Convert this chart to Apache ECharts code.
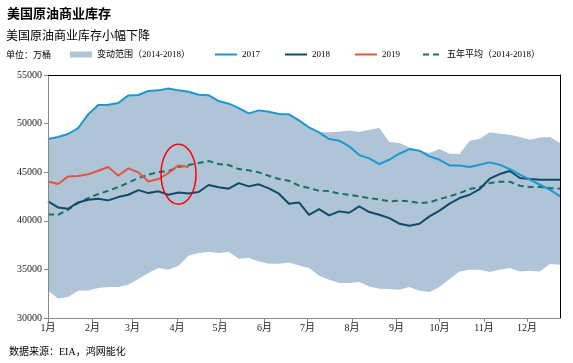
<!DOCTYPE html>
<html><head><meta charset="utf-8">
<script src="https://cdn.jsdelivr.net/npm/echarts@6/dist/echarts.min.js"></script>
<style>html,body{margin:0;padding:0;background:#fff}#c{width:573px;height:363px}</style>
</head><body><div id="c"></div>
<script>
// Month tick positions (day of year) and labels
const monthDays = [0,31,59,90,120,151,181,212,243,273,304,334];
const monthLabels = ['1月','2月','3月','4月','5月','6月','7月','8月','9月','10月','11月','12月'];
// Weekly observation positions (day of year)
const weekDays = [0,7,14,21,28,35,42,49,56,63,70,77,84,91,98,105,112,119,126,133,140,147,154,161,168,175,182,189,196,203,210,217,224,231,238,245,252,259,266,273,280,287,294,301,308,315,322,329,336,343,350,357];

const bandMin = [32800,32010,32150,32800,32840,33080,33180,33180,33420,34000,34620,35140,34970,35380,36410,36680,36800,36700,36820,36100,36170,35820,35580,35580,35720,35410,35140,34350,33940,33590,33590,33700,33250,33010,32980,32910,33180,32800,32670,33180,34000,34790,34970,34970,34730,34970,35140,34790,34860,34790,35550,35480];
const bandMax = [48410,48620,48930,49540,50950,51910,51940,52120,52900,52940,53350,53420,53620,53420,53280,52970,52920,52320,52050,51600,51050,51360,51220,50980,50950,50330,49610,49100,49100,49170,49300,49130,49370,49540,48100,48000,47550,47210,46970,47380,46900,46870,48240,48450,49100,48960,48860,48620,48340,48580,48620,48000];
const y2017 = [48410,48620,48930,49540,50950,51910,51940,52120,52900,52940,53350,53420,53620,53420,53280,52970,52920,52320,52050,51600,51050,51360,51220,50980,50950,50330,49610,49100,48410,48240,47660,46760,46420,45840,46280,46900,47380,47210,46630,46280,45700,45700,45530,45770,46010,45770,45320,44740,44230,43710,43200,42510];
const y2018 = [42000,41380,41240,41890,42170,42270,42100,42440,42680,43160,42850,43030,42680,42920,42820,42960,43680,43450,43300,43880,43540,43750,43330,42790,41760,41890,40620,41210,40560,40970,40830,41480,40900,40620,40280,39700,39490,39700,40450,41040,41760,42340,42680,43270,44330,44810,45120,44400,44300,44230,44230,44230];
const y2019 = [44050,43780,44570,44600,44780,45150,45530,44640,45390,44980,44050,44300,44910,45700,45530];
const avg5 = [40660,40620,41140,41830,42340,42750,43090,43470,43920,44400,44740,45020,45120,45530,45740,45940,46150,45840,45740,45320,45190,44980,44640,44300,44120,43610,43370,43090,43060,42790,42680,42510,42340,42200,42000,42070,42000,41830,41890,42240,42510,42850,43270,43470,43880,44020,44020,43610,43470,43470,43370,43300];

const ellipseAt = {day: 91, value: 44800};

const names = {band:'变动范围（2014-2018）', s17:'2017', s18:'2018', s19:'2019', avg:'五年平均（2014-2018）'};
const colors = {band:'#b0c4d8', s17:'#1b98cf', s18:'#0f4a68', s19:'#e0583d', avg:'#17706a'};

function pairs(arr){ return arr.map((v,i)=>[weekDays[i], v]); }

const FONT = "'Liberation Serif','Noto Sans CJK SC',serif";
const CJK = "'Noto Sans CJK SC',sans-serif";

const chart = echarts.init(document.getElementById('c'), null, {renderer:'canvas'});
const legendBase = {top:50, padding:0, itemHeight:6, itemGap:10, textStyle:{fontSize:9, fontFamily:FONT, color:'#000'}, selectedMode:false};
const lineLegend = {itemStyle:{opacity:0}};
chart.setOption({
  animation:false,
  backgroundColor:'#fff',
  title:[
    {text:'美国原油商业库存', left:7, top:7, padding:0, textStyle:{fontSize:13, fontWeight:'bold', fontFamily:CJK, color:'#000'}},
    {text:'美国原油商业库存小幅下降', left:6, top:29, padding:0, textStyle:{fontSize:12, fontWeight:'normal', fontFamily:CJK, color:'#000'}},
    {text:'单位：万桶', left:6, top:50, padding:0, textStyle:{fontSize:9, fontWeight:'normal', fontFamily:CJK, color:'#000'}},
    {text:'数据来源：EIA，鸿网能化', left:9, top:347, padding:0, textStyle:{fontSize:10, fontWeight:'normal', fontFamily:FONT, color:'#000'}}
  ],
  legend:[
    Object.assign({}, legendBase, {left:70, itemWidth:22, data:[{name:names.band, icon:'rect'}]}),
    Object.assign({}, legendBase, lineLegend, {left:214, itemWidth:22, data:[names.s17]}),
    Object.assign({}, legendBase, lineLegend, {left:284, itemWidth:22, data:[names.s18]}),
    Object.assign({}, legendBase, lineLegend, {left:354, itemWidth:22, data:[names.s19]}),
    Object.assign({}, legendBase, lineLegend, {left:422, itemWidth:19, data:[names.avg]})
  ],
  grid:{left:48, right:13, top:75, bottom:45},
  xAxis:[
    {type:'value', min:0, max:357, position:'bottom', z:5,
     axisLine:{show:true, lineStyle:{color:'#888', width:1}},
     axisTick:{show:true, inside:false, length:4, lineStyle:{color:'#888'}, customValues:monthDays},
     axisLabel:{show:true, customValues:monthDays, fontSize:10, fontFamily:FONT, color:'#222', margin:5,
       formatter:function(v){ const k = monthDays.indexOf(Math.round(v)); return k>=0 ? monthLabels[k] : ''; }},
     splitLine:{show:false}},
    {type:'value', min:0, max:357, position:'top', z:5,
     axisLine:{show:true, onZero:false, lineStyle:{color:'#000', width:1}},
     axisTick:{show:false}, axisLabel:{show:false}, splitLine:{show:false}}
  ],
  yAxis:[
    {type:'value', min:30000, max:55000, interval:5000, position:'left', z:5,
     axisLine:{show:true, lineStyle:{color:'#888', width:1}},
     axisTick:{show:true, length:4, lineStyle:{color:'#888'}},
     axisLabel:{fontSize:10, fontFamily:FONT, color:'#222', margin:6, formatter:function(v){return String(v);}},
     splitLine:{show:false}},
    {type:'value', min:30000, max:55000, interval:5000, position:'right', z:5,
     axisLine:{show:true, onZero:false, lineStyle:{color:'#000', width:1}},
     axisTick:{show:false}, axisLabel:{show:false}, splitLine:{show:false}}
  ],
  series:[
    {name:names.band, type:'custom', z:1, silent:true,
     data: weekDays.map((d,i)=>[d, bandMin[i], bandMax[i]]),
     encode:{x:0, y:[1,2]},
     itemStyle:{color:colors.band},
     renderItem:function(params, api){
       if (params.dataIndex !== 0) return null;
       const top = bandMax.map((v,i)=>api.coord([weekDays[i], v]));
       const bot = bandMin.map((v,i)=>api.coord([weekDays[i], v])).reverse();
       return {type:'polygon', shape:{points: top.concat(bot)}, style:{fill:colors.band, stroke:null}};
     }},
    {name:names.avg, type:'line', data:pairs(avg5), symbol:'none', z:3,
     itemStyle:{color:colors.avg}, lineStyle:{color:colors.avg, width:2, type:[6,4]}},
    {name:names.s18, type:'line', data:pairs(y2018), symbol:'none', z:3,
     itemStyle:{color:colors.s18}, lineStyle:{color:colors.s18, width:2}},
    {name:names.s17, type:'line', data:pairs(y2017), symbol:'none', z:3,
     itemStyle:{color:colors.s17}, lineStyle:{color:colors.s17, width:2}},
    {name:names.s19, type:'line', data:pairs(y2019), symbol:'none', z:3,
     itemStyle:{color:colors.s19}, lineStyle:{color:colors.s19, width:2}}
  ]
});
const p = chart.convertToPixel({xAxisIndex:0, yAxisIndex:0}, [ellipseAt.day, ellipseAt.value]);
chart.setOption({graphic:[{type:'ellipse', z:100, shape:{cx:p[0], cy:p[1], rx:17.5, ry:30},
  style:{fill:null, stroke:'#ff0000', lineWidth:1.5}}]});
</script></body></html>
